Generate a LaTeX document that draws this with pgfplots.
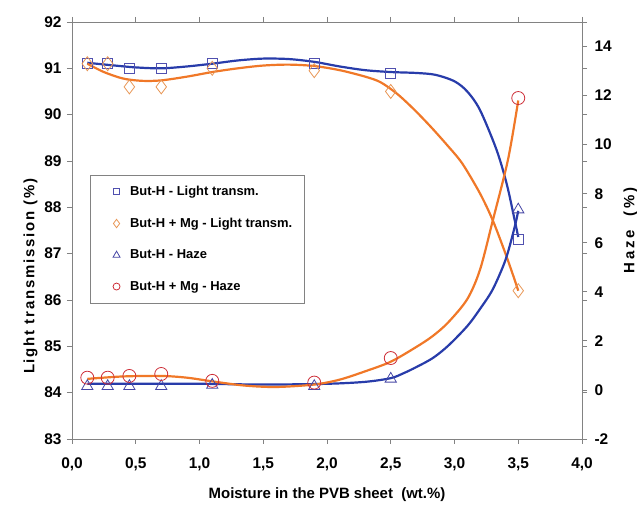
\documentclass[border=0pt]{standalone}
\usepackage{pgfplots}
\pgfplotsset{compat=1.18}
\usepackage{fontspec}
\setmainfont{Liberation Sans}
\definecolor{cblue}{RGB}{40,60,170}
\definecolor{corange}{RGB}{240,120,40}
\definecolor{msq}{RGB}{80,80,175}
\definecolor{mdia}{RGB}{232,150,85}
\definecolor{mtri}{RGB}{70,70,165}
\definecolor{mcir}{RGB}{205,45,55}
\definecolor{axgray}{RGB}{130,130,130}
\begin{document}
\begin{tikzpicture}
\pgfplotsset{
  common/.style={
    scale only axis, width=510bp, height=417bp,
    xmin=0, xmax=4,
    axis line style={axgray, line width=0.8pt},
    tick style={axgray, line width=0.8pt},
    tick align=outside, major tick length=5bp,
    /pgf/number format/assume math mode=true,
    tick label style={font=\fontsize{15.5}{17}\selectfont\bfseries},
    label style={font=\fontsize{15}{17}\selectfont\bfseries},
  }
}
\begin{axis}[common, name=ax,
  ymin=83, ymax=92, ytick={83,84,...,92},
  xtick={0,0.5,...,4},
  xticklabel style={yshift=-10bp, /pgf/number format/.cd, use comma, fixed, fixed zerofill, precision=1},
  yticklabel style={xshift=-2bp, /pgf/number format/.cd, fixed, precision=0},
  xlabel={Moisture in the PVB sheet\ \ (wt.\%)},
  ylabel={\addfontfeature{LetterSpace=12}Light transmission (\%)},
  xlabel style={yshift=-10bp},
  ylabel style={at={(ticklabel cs:0.39)}},
  legend style={at={(0.0605,0.633)}, anchor=north west, draw=none, fill=none, name=leg,
    font=\fontsize{13}{15}\selectfont\bfseries, row sep=17bp,
    inner xsep=10bp, inner ysep=9bp,
    /tikz/every odd column/.append style={column sep=8bp}},
  legend cell align=left,
]
% fitted curves
\addplot[cblue, line width=2.2bp, smooth, tension=0.5, forget plot] coordinates {
(0.12,91.12)(0.3,91.07)(0.5,91.02)(0.7,91.0)(0.9,91.04)(1.1,91.1)(1.3,91.17)(1.5,91.21)(1.7,91.2)(1.9,91.14)(2.1,91.04)(2.3,90.96)(2.5,90.92)(2.7,90.9)(2.85,90.86)(3.0,90.72)(3.1,90.5)(3.2,90.1)(3.33,89.24)(3.41,88.5)(3.47,87.75)(3.5,87.36)};
\addplot[corange, line width=2.2bp, smooth, tension=0.5, forget plot] coordinates {
(0.12,91.1)(0.25,90.92)(0.4,90.78)(0.55,90.73)(0.7,90.74)(0.9,90.82)(1.1,90.92)(1.3,91.0)(1.5,91.06)(1.7,91.08)(1.9,91.05)(2.1,90.96)(2.3,90.82)(2.42,90.7)(2.55,90.45)(2.68,90.12)(2.81,89.75)(2.94,89.35)(3.06,88.95)(3.2,88.3)(3.3,87.72)(3.4,87.0)(3.47,86.45)(3.5,86.2)};
% data
\addplot[only marks, mark=square, mark size=5bp, msq, mark options={line width=0.8pt},
  legend image post style={mark size=3.2bp}] coordinates {
(0.12,91.1)(0.28,91.1)(0.45,91.0)(0.7,91.0)(1.1,91.1)(1.9,91.1)(2.5,90.9)(3.5,87.3)};
\addlegendentry{But-H - Light transm.}
\addplot[only marks, mark=diamond, mark size=7bp, mdia, mark options={line width=0.8pt},
  legend image post style={mark size=4.2bp}] coordinates {
(0.12,91.1)(0.28,91.1)(0.45,90.6)(0.7,90.6)(1.1,91.0)(1.9,90.95)(2.5,90.5)(3.5,86.2)};
\addlegendentry{But-H + Mg - Light transm.}
\addlegendimage{only marks, mark=triangle, mark size=4bp, mtri, mark options={line width=0.8pt}}
\addlegendentry{But-H - Haze}
\addlegendimage{only marks, mark=o, mark size=3.5bp, mcir, mark options={line width=0.8pt}}
\addlegendentry{But-H + Mg - Haze}
\end{axis}
\draw[axgray, line width=0.8pt] ([xshift=-12bp]leg.south west) rectangle (leg.north east);
\begin{axis}[common,
  axis x line=none, axis y line*=right,
  ymin=-2, ymax=15, ytick={-2,0,...,14},
  yticklabel style={xshift=4bp},
  ylabel={\addfontfeature{LetterSpace=18}Haze\ \ (\%)},
  ylabel style={yshift=-5bp},
]
\addplot[cblue, line width=2.2bp, smooth, tension=0.5] coordinates {
(0.12,0.25)(0.5,0.25)(1.0,0.25)(1.5,0.22)(2.0,0.25)(2.3,0.33)(2.5,0.48)(2.6,0.68)(2.7,0.93)(2.83,1.3)(2.95,1.8)(3.1,2.6)(3.2,3.3)(3.3,4.1)(3.4,5.3)(3.47,6.6)(3.5,7.3)};
\addplot[corange, line width=2.2bp, smooth, tension=0.5] coordinates {
(0.12,0.45)(0.4,0.55)(0.7,0.57)(0.9,0.5)(1.1,0.35)(1.35,0.18)(1.6,0.12)(1.9,0.22)(2.1,0.42)(2.3,0.76)(2.5,1.15)(2.7,1.75)(2.83,2.2)(2.95,2.75)(3.1,3.7)(3.2,4.9)(3.3,6.9)(3.42,9.4)(3.5,11.8)};
\addplot[only marks, mark=triangle, mark size=6.5bp, mtri, mark options={line width=0.8pt}] coordinates {
(0.12,0.15)(0.28,0.15)(0.45,0.15)(0.7,0.15)(1.1,0.2)(1.9,0.15)(2.5,0.45)(3.5,7.35)};
\addplot[only marks, mark=o, mark size=6.5bp, mcir, mark options={line width=0.8pt}] coordinates {
(0.12,0.5)(0.28,0.5)(0.45,0.57)(0.7,0.65)(1.1,0.37)(1.9,0.3)(2.5,1.3)(3.5,11.9)};
\end{axis}
\pgfresetboundingbox
\path ([xshift=-72bp,yshift=-69bp]ax.south west) rectangle ([xshift=55bp,yshift=22bp]ax.north east);
\end{tikzpicture}
\end{document}
